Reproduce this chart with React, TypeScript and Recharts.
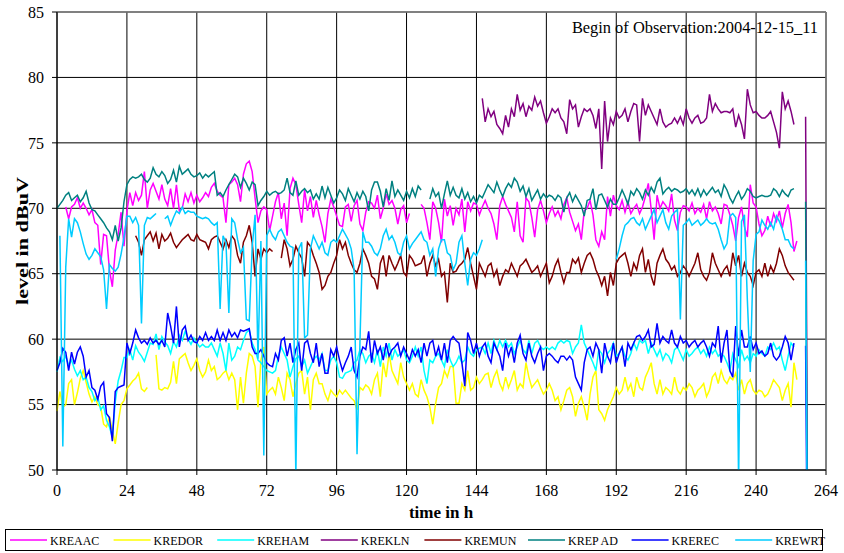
import React from "react";
import { LineChart, Line, XAxis, YAxis, CartesianGrid, ReferenceLine } from "recharts";

const _ = null;
const gap = (n: number) => new Array(n).fill(null);

// hourly levels in dBuV, index = hour since begin of observation
const kreaac = [
  _, _, _, 70.1, 69.2, 70.1, 70.3, 70.8, 70.0, 70.4, 70.0, 69.5, 69.9, 68.9, 68.7, 65.7, 68.0, 67.9, 65.3, 64.0, 66.8, 68.0, 69.7, 67.1,
  69.8, 71.2, 70.2, 71.2, 70.6, 71.0, 72.8, 70.0, 71.4, 71.9, 71.3, 70.7, 71.8, 70.7, 70.2, 71.5, 70.0, 71.8, 69.8, 70.0, 71.1, 70.5, 71.2, 70.4,
  71.0, 70.5, 70.8, 71.2, 70.9, 71.6, 71.9, 71.3, 71.0, 70.8, 68.9, 71.8, 72.0, 72.3, 71.8, 70.5, 72.6, 73.4, 73.6, 72.8, 70.8, 68.9, 69.8, 70.1,
  69.9, 68.3, 69.4, 70.5, 71.2, 69.2, 70.4, 67.9, 71.5, 72.3, 71.8, 70.3, 68.9, 71.4, 69.8, 70.9, 69.3, 70.6, 69.5, 68.6, 67.4, 69.6, 70.7, 70.1,
  69.4, 68.7, 68.6, 70.1, 70.3, 69.0, 70.2, 70.6, 68.8, 68.3, 69.7, 70.5, 70.4, 70.0, 71.0, 69.2, 70.0, 71.1, 70.3, 70.6, 70.0, 68.8, 69.9, 70.2,
  68.9, 69.6, _, _, _, 70.3, 70.0, 68.9, 67.6, 70.5, 70.0, 68.9, 67.4, 70.7, 69.4, 70.2, 68.7, 70.0, 69.5, 70.7, 68.2, 70.5, 69.8, 70.4,
  70.3, 69.5, 70.1, 70.6, 70.0, 69.6, 68.8, 67.6, 70.2, 70.9, 70.3, 69.8, 69.3, 68.2, 70.5, 67.9, 67.4, 70.8, 70.5, 69.3, 67.8, 69.9, 70.6, 69.8,
  68.9, 69.6, 70.1, 69.4, 69.8, 69.2, 70.3, 70.8, 69.7, 69.0, 68.3, 68.8, 67.6, 69.8, 70.0, 70.6, 69.5, 67.6, 67.1, 68.2, 67.6, 70.9, 69.4, 71.0,
  70.2, 69.9, 70.6, 69.7, 70.5, 69.6, 70.0, 70.3, 69.6, 70.1, 70.9, 71.9, 69.9, 67.6, 71.0, 70.0, 70.5, 70.2, 69.8, 71.1, 69.1, 68.3, 69.7, 70.2,
  70.1, 69.8, 70.4, 69.6, 70.0, 69.7, 70.3, 69.2, 70.5, 69.8, 70.1, 69.6, 68.8, 70.3, 70.2, 69.5, 68.7, 67.5, 69.3, 70.1, 68.6, 67.8, 71.8, 70.4,
  70.1, 68.8, 67.9, 68.3, 69.4, 68.6, 69.6, 69.0, 69.8, 68.5, 69.6, 70.3, 68.9, 66.7, 67.5, _, _, _, _,
];

const kredor = [
  54.5, 56.0, 54.8, 55.0, 56.6, 56.9, 55.0, 55.9, 57.0, 57.6, 56.7, 55.8, 55.2, 55.6, 55.0, 54.8, 53.5, 53.3, 54.1, 53.0, 52.0, 53.6, 55.0, 55.3,
  56.2, 56.5, 56.8, 57.0, 57.4, 56.2, 56.0, 56.3, _, _, 58.8, 56.2, 56.1, 56.3, 56.2, 56.7, 58.3, 56.6, 58.5, 58.7, 58.9, 58.2, 57.6, 58.0,
  58.5, 57.6, 57.1, 57.5, 58.4, 57.6, 57.9, 56.9, 57.1, 57.4, 57.6, 56.9, 57.4, 56.9, 54.6, 57.1, 55.1, 57.4, 58.9, 58.7, 57.9, 54.8, 58.4, 59.4,
  55.8, 56.1, 56.3, 55.8, 57.1, 56.3, 55.3, 57.4, 56.9, 55.6, 56.6, 57.4, 57.6, 55.8, 57.1, 54.6, 56.9, 57.4, 56.6, 56.6, 55.8, 55.3, 56.1, 55.8,
  55.6, 56.1, 55.8, 56.1, 55.8, 55.5, 55.3, 54.6, 56.3, 56.1, 56.5, 56.3, 55.8, 56.9, 57.4, 55.6, 58.2, 57.1, 58.9, 57.6, 57.1, 56.6, 58.2, 57.1,
  56.6, 56.1, 56.6, 55.8, 55.6, 56.9, 56.1, 55.6, 54.8, 53.5, 55.1, 56.3, 56.6, 57.6, 57.1, 57.9, 57.9, 55.1, 55.1, 56.6, 56.1, 57.6, 56.1, 56.3,
  57.1, 56.6, 56.9, 57.3, 57.4, 56.3, 57.1, 57.6, 56.6, 56.1, 57.1, 56.3, 56.9, 57.6, 56.1, 56.6, 56.3, 58.2, 57.1, 56.3, 56.6, 56.9, 56.3, 55.8,
  56.1, 56.6, 56.1, 55.3, 55.6, 54.6, 55.3, 56.1, 56.3, 55.6, 54.1, 55.1, 55.6, 54.8, 53.8, 55.8, 57.1, 57.6, 54.6, 54.3, 53.8, 54.6, 55.1, 55.6,
  56.3, 55.8, 56.1, 57.1, 56.1, 56.6, 55.6, 57.1, 56.3, 56.1, 57.1, 57.6, 58.2, 56.6, 55.8, 56.9, 55.8, 56.3, 56.1, 55.8, 57.1, 56.1, 55.8, 56.3,
  56.1, 56.6, 56.3, 55.6, 56.1, 56.3, 56.6, 55.6, 56.1, 57.1, 57.4, 56.6, 57.6, 56.9, 56.6, 57.1, 56.9, 57.4, 56.1, 56.9, 55.8, 56.6, 56.9, 56.1,
  55.8, 56.1, 56.0, 55.6, 55.8, 56.3, 56.9, 56.6, 56.3, 55.3, 56.1, 56.6, 54.8, 58.2, 56.9, _, _, _, _,
];

const kreham = [
  57.5, 58.6, 58.3, 58.7, 58.0, 58.4, 57.7, 57.2, 57.6, 56.9, 57.1, 56.3, 56.0, 55.3, 55.6, 54.6, 54.9, 53.8, 53.3, 52.5, 55.2, 56.8, 57.6, 58.6,
  58.6, 59.2, 58.4, 59.5, 59.0, 58.7, 58.3, 59.0, 59.7, 59.6, 60.4, 59.2, 60.2, 59.8, 59.5, 58.9, 59.8, 59.4, 60.3, 59.9, 60.6, 60.0, 59.6, 60.1,
  59.7, 59.4, 59.6, 59.4, 59.4, 59.7, 59.2, 58.7, 59.7, 58.9, 57.6, 59.7, 58.4, 58.7, 59.4, 59.2, 59.9, 60.5, 60.7, 59.7, 59.2, 58.4, 58.2, 57.9,
  57.6, 57.5, 57.4, 57.6, 58.7, 59.4, 58.9, 58.4, 57.1, 57.9, 58.5, 58.7, 57.9, 58.4, 57.4, 57.9, 58.4, 58.7, 58.4, 58.9, 57.6, 57.6, 58.4, 58.7,
  58.2, 57.1, 57.0, 57.4, 57.5, 57.6, 58.2, 58.4, 59.2, 58.9, 58.2, 58.7, 58.9, 58.2, 59.2, 57.9, 59.4, 58.7, 59.7, 58.4, 59.2, 58.7, 58.9, 59.2,
  58.4, 58.2, 58.7, 59.4, 58.7, 59.4, 57.6, 56.6, 58.4, 58.2, 58.7, 58.9, 58.4, 57.9, 59.2, 58.4, 57.9, 58.2, 58.7, 58.2, 58.4, 59.4, 58.9, 58.7,
  59.2, 59.3, 59.4, 58.9, 59.7, 58.9, 59.9, 59.2, 59.9, 59.4, 59.9, 59.4, 59.7, 58.9, 59.4, 59.9, 59.2, 58.9, 59.9, 58.9, 59.7, 59.9, 59.4, 59.2,
  59.4, 59.2, 59.4, 59.2, 59.7, 59.9, 59.7, 59.9, 59.8, 58.9, 59.4, 59.7, 61.1, 59.7, 59.2, 58.7, 58.2, 57.6, 59.2, 58.9, 58.2, 58.9, 59.2, 59.7,
  58.7, 58.9, 59.4, 58.7, 58.4, 58.9, 59.7, 59.2, 59.9, 59.7, 59.9, 58.9, 59.7, 59.2, 58.7, 59.2, 58.4, 58.9, 58.7, 58.2, 59.2, 59.4, 58.9, 58.4,
  59.2, 58.7, 58.9, 59.2, 59.4, 58.9, 59.2, 58.7, 59.4, 58.9, 59.2, 58.7, 58.9, 58.7, 58.2, 57.6, 58.9, 58.4, 57.9, 59.2, 58.4, 58.7, 58.2, 58.9,
  58.7, 59.2, 58.9, 58.7, 59.4, 59.2, 59.7, 59.2, 59.4, 58.4, 57.6, 58.7, 59.7, 59.4, _, _, _, _, _,
];

const krekln = [
  ...gap(144),
  _, _, 78.4, 76.6, 77.6, 77.0, 77.4, 76.4, 76.1, 75.7, 77.1, 76.2, 77.6, 77.0, 78.7, 77.5, 78.0, 77.0, 77.8, 77.5, 78.5, 77.8, 78.2, 77.3,
  76.5, 77.0, 77.6, 77.3, 77.6, 76.9, 76.6, 75.7, 78.3, 77.6, 77.9, 76.2, 77.0, 77.6, 77.4, 77.6, 77.1, 76.1, 77.6, 73.0, 78.2, 75.1, 76.9, 76.4,
  77.4, 76.9, 77.1, 77.6, 76.6, 77.4, 78.0, 77.9, 75.1, 78.4, 77.1, 77.9, 77.4, 76.9, 76.4, 77.6, 76.6, 76.2, 76.4, 76.5, 76.9, 76.5, 77.0, 76.4,
  77.6, 76.9, 76.5, 76.9, 77.1, 76.5, 76.6, 76.9, 78.7, 77.4, 78.0, 77.6, 77.3, 77.4, 77.4, 77.3, 77.6, 76.2, 77.1, 76.4, 75.3, 79.1, 77.9, 77.3,
  77.4, 77.1, 76.9, 76.9, 77.1, 77.4, 76.6, 75.8, 74.6, 78.9, 77.6, 78.2, 77.4, 76.4, _, _, _, 77.0, 30,
];

const kremun = [
  ...gap(24),
  _, _, _, 67.9, 67.4, 66.4, 67.6, 67.9, 68.2, 67.5, 68.1, 66.9, 68.0, 67.5, 67.7, 68.1, 67.4, 67.0, 67.3, 67.6, 67.8, 68.0, 67.6, 67.5,
  68.0, 67.6, 67.5, 67.4, 66.9, 67.6, 67.8, 67.9, 67.4, 66.9, 67.6, 67.0, 67.9, 67.6, 66.4, 65.8, 67.4, 67.9, 68.7, 67.4, 64.8, 66.9, 66.1, 66.9,
  66.6, 66.9, 66.7, _, _, 66.2, 67.6, 66.9, 65.6, 66.1, 67.1, 66.6, 66.2, 64.8, 67.4, 67.1, 66.4, 65.8, 65.1, 63.8, 64.1, 64.8, 65.1, 65.8,
  66.4, 67.6, 66.9, 67.4, 66.4, 65.8, 65.3, 65.1, 65.8, 66.9, 66.4, 65.8, 64.8, 64.6, 63.8, 65.8, 66.4, 64.8, 66.4, 65.8, 65.3, 65.8, 66.4, 65.1,
  64.8, 66.4, 66.1, 65.6, 65.7, 65.8, 66.4, 64.8, 65.8, 66.4, 65.6, 66.1, 64.8, 65.1, 62.8, 65.8, 65.1, 65.2, 65.6, 65.8, 66.1, 67.0, 65.8, 64.8,
  63.8, 65.8, 65.3, 64.8, 65.6, 65.8, 64.8, 65.3, 64.1, 64.8, 65.3, 65.1, 65.8, 65.3, 64.8, 65.6, 65.8, 66.1, 65.6, 65.1, 65.3, 65.6, 64.8, 65.3,
  65.8, 64.3, 64.8, 65.6, 66.1, 65.1, 64.3, 65.1, 65.1, 66.1, 65.8, 66.2, 65.1, 65.8, 66.4, 66.6, 66.1, 65.3, 64.8, 64.1, 64.8, 63.3, 65.1, 64.1,
  65.8, 66.2, 66.4, 66.6, 65.8, 64.8, 65.8, 65.3, 66.4, 66.9, 65.1, 66.1, 64.8, 64.1, 65.8, 66.4, 66.9, 66.1, 65.8, 65.3, 65.6, 64.8, 65.1, 65.6,
  65.3, 64.8, 65.3, 65.8, 66.6, 65.3, 64.8, 64.5, 65.1, 66.6, 65.8, 65.3, 64.8, 65.3, 65.6, 64.8, 66.6, 65.6, 66.4, 64.8, 65.8, 65.1, 64.8, 64.1,
  65.1, 65.3, 64.8, 65.8, 64.8, 65.6, 65.1, 65.8, 66.9, 66.4, 65.6, 65.1, 64.8, 64.5, _, _, _, _, _,
];

const krepad = [
  70.0, 70.3, 70.6, 71.0, 71.2, 70.6, 70.8, 71.0, 70.5, 70.8, 71.3, 70.4, 69.9, 69.8, 69.5, 69.2, 68.9, 68.5, 68.2, 67.6, 68.7, 67.5, 68.5, 70.5,
  71.8, 72.2, 72.4, 72.3, 72.4, 72.6, 72.2, 72.0, 72.3, 73.1, 72.6, 72.4, 72.8, 72.5, 71.9, 72.2, 72.9, 72.0, 73.2, 72.6, 72.8, 73.0, 72.6, 72.4,
  72.5, 72.7, 72.3, 72.6, 72.4, 72.6, 72.8, 71.0, 71.2, 70.9, 71.4, 71.8, 72.2, 72.6, 72.4, 71.6, 72.3, 71.9, 71.4, 72.0, 71.8, 70.2, 70.6, 70.9,
  71.3, 71.0, 71.2, 71.3, 71.1, 71.2, 71.4, 72.3, 71.2, 71.0, 72.1, 71.0, 71.3, 71.5, 71.2, 71.4, 70.7, 71.1, 70.7, 71.7, 70.8, 71.6, 71.0, 70.4,
  70.8, 71.4, 71.1, 70.6, 71.5, 71.0, 70.5, 71.2, 70.7, 71.3, 70.9, 69.8, 71.4, 72.0, 72.0, 71.3, 70.1, 71.5, 70.6, 72.1, 70.9, 71.4, 71.0, 70.6,
  71.3, 70.8, 71.5, 70.9, 71.7, 71.4, _, _, 70.7, 71.5, 70.9, 71.2, 70.0, 71.1, 72.1, 71.0, 71.6, 71.0, 70.8, 71.5, 70.7, 71.2, 70.5, 70.9,
  70.4, 71.0, 70.8, 71.3, 71.8, 71.5, 71.2, 72.0, 71.4, 70.9, 71.5, 71.9, 71.6, 72.3, 72.0, 71.3, 71.7, 70.9, 71.5, 70.6, 71.0, 71.4, 70.7, 71.1,
  70.8, 71.0, 70.9, 70.6, 71.0, 70.8, 69.7, 70.8, 71.2, 70.5, 71.0, 70.6, 70.2, 69.4, 70.6, 70.7, 71.5, 69.9, 71.0, 71.1, 70.6, 70.1, 70.7, 70.3,
  70.3, 70.8, 71.4, 70.9, 70.3, 71.3, 71.0, 71.5, 71.2, 70.7, 71.4, 71.0, 71.6, 71.2, 72.0, 72.3, 71.1, 71.4, 71.6, 71.3, 71.5, 71.4, 71.2, 71.3,
  71.5, 71.1, 71.4, 71.0, 71.5, 70.9, 71.4, 71.0, 71.3, 71.6, 71.2, 71.4, 70.9, 71.8, 71.4, 70.8, 70.4, 70.9, 71.3, 70.7, 71.0, 71.5, 71.3, 70.9,
  70.8, 70.9, 71.0, 70.9, 70.9, 71.0, 71.5, 71.3, 70.9, 71.4, 71.1, 70.9, 71.4, 71.5, _, _, _, 70.5, 30,
];

const krerec = [
  57.6, 58.2, 59.3, 59.0, 57.6, 59.0, 58.1, 59.0, 59.4, 58.7, 57.1, 57.6, 56.3, 56.1, 55.4, 56.4, 56.7, 54.3, 54.0, 52.2, 56.0, 56.3, 56.4, 56.5,
  59.7, 58.9, 59.7, 60.7, 60.1, 59.7, 59.9, 59.6, 60.1, 59.7, 59.9, 59.6, 59.9, 59.4, 62.0, 61.0, 59.7, 62.5, 59.4, 60.7, 61.0, 59.9, 60.3, 59.8,
  59.7, 60.2, 59.9, 60.5, 59.9, 60.2, 59.9, 60.7, 59.9, 60.5, 59.9, 60.7, 60.2, 60.5, 60.1, 60.7, 60.6, 60.7, 60.8, 59.4, 58.9, 58.9, 59.2, 58.7,
  58.2, 58.0, 57.9, 58.9, 58.4, 59.9, 60.1, 58.7, 59.7, 58.2, 59.2, 59.7, 57.6, 59.7, 59.9, 58.9, 58.2, 59.7, 57.9, 58.9, 57.4, 57.4, 59.2, 58.7,
  59.4, 58.4, 57.6, 58.2, 58.7, 59.4, 57.6, 57.1, 58.7, 59.4, 59.2, 60.6, 58.2, 59.9, 58.9, 59.4, 58.4, 59.7, 58.7, 59.2, 59.4, 59.7, 58.7, 59.4,
  58.9, 58.4, 59.2, 58.7, 59.2, 58.2, 59.7, 58.7, 59.7, 59.9, 58.7, 59.4, 58.4, 59.7, 58.2, 59.9, 60.2, 59.9, 59.7, 58.2, 56.4, 60.5, 59.9, 58.9,
  59.7, 58.7, 59.4, 59.7, 58.7, 58.2, 59.7, 59.2, 58.7, 57.6, 59.7, 58.7, 59.4, 58.2, 59.7, 60.3, 58.9, 58.4, 59.7, 58.7, 58.2, 58.9, 59.4, 57.6,
  58.7, 58.9, 58.7, 58.4, 58.2, 58.7, 58.7, 58.4, 58.7, 58.4, 57.1, 56.6, 56.1, 58.2, 59.2, 59.4, 58.7, 59.7, 59.2, 57.4, 59.7, 58.7, 58.2, 59.7,
  58.2, 58.9, 59.4, 57.9, 59.7, 59.2, 59.7, 60.2, 60.3, 59.9, 60.2, 60.7, 59.4, 59.6, 61.2, 59.7, 60.2, 59.9, 59.7, 60.7, 59.7, 59.4, 60.2, 59.7,
  59.9, 59.4, 59.7, 59.9, 59.4, 59.7, 59.9, 59.4, 58.7, 59.7, 59.4, 61.0, 58.2, 59.7, 60.7, 57.6, 57.1, 61.0, 58.7, 60.7, 59.4, 59.4, 60.2, 59.2,
  59.7, 58.9, 59.1, 58.7, 58.9, 59.7, 58.7, 58.4, 58.7, 59.4, 60.2, 59.7, 58.4, 59.7, _, _, _, 59.5, 30,
];

const krewrt = [
  _, 67.9, 51.8, 65.5, 69.2, 67.8, 69.2, 68.9, 68.2, 67.3, 66.5, 66.1, 66.4, 66.9, 66.6, 66.3, 65.3, 62.3, 65.7, 65.4, 65.2, 65.5, 66.5, 67.8,
  69.4, 69.4, 68.9, 69.3, 68.7, 61.2, 68.7, 69.3, 69.2, 69.4, 69.6, _, _, 69.2, 69.4, 68.7, 69.3, 69.8, 69.6, 70.1, 69.6, 69.8, 69.7, 69.7,
  69.4, 69.3, 69.2, 69.3, 69.2, 68.9, 68.7, 68.9, 62.3, 67.9, 67.4, 62.0, 69.2, 68.9, 67.6, 66.6, 67.0, 61.5, 61.4, 67.0, 69.5, 58.5, 67.5, 51.1,
  67.9, 68.4, 67.9, 67.6, 68.2, 68.4, 67.9, 67.4, 67.1, 67.0, 49.5, 66.9, 67.4, 60.1, 60.3, 66.9, 67.9, 67.4, 66.9, 67.4, 66.6, 66.4, 67.4, 67.6,
  67.4, 67.9, 68.4, 68.0, 67.6, 66.9, 65.3, 51.2, 59.7, 68.2, 67.4, 67.4, 67.1, 66.6, 66.4, 66.9, 67.9, 68.4, 67.6, 67.9, 67.4, 66.6, 66.4, 67.4,
  67.9, 66.9, 67.3, 67.6, 67.9, 68.2, 67.6, 67.4, 66.4, 66.9, 64.8, 66.9, 67.6, 67.6, 66.6, 66.4, 65.3, 65.8, 67.4, 67.9, 65.8, 64.1, 66.1, 66.6,
  66.4, 66.9, 67.6, ...gap(21),
  ...gap(24),
  66.1, 66.9, 67.9, 68.7, 68.9, 69.2, 69.3, 68.9, 68.7, 69.2, 68.4, 68.9, 69.4, 69.9, 68.9, 69.4, 69.9, 68.9, 68.4, 69.4, 69.7, 69.9, 61.5, 68.7,
  68.9, 69.2, 68.7, 68.9, 69.1, 68.7, 68.9, 69.2, 68.9, 68.8, 68.9, 68.4, 67.6, 66.9, 67.3, 69.4, 69.6, 69.3, 49.0, 69.0, 69.5, 63.0, 57.5, 66.0,
  68.0, 68.2, 69.1, 68.7, 68.4, 68.9, 68.4, 69.4, 69.0, 68.4, 67.6, 67.6, 67.1, 66.9, _, _, _, 66.0, 30,
];

const xTicks = [0, 24, 48, 72, 96, 120, 144, 168, 192, 216, 240, 264];
const yTicks = [50, 55, 60, 65, 70, 75, 80, 85];

const series = [
  { key: "KREAAC", name: "KREAAC", color: "#FF00FF", values: kreaac },
  { key: "KREDOR", name: "KREDOR", color: "#FFFF00", values: kredor },
  { key: "KREHAM", name: "KREHAM", color: "#00FFFF", values: kreham },
  { key: "KREKLN", name: "KREKLN", color: "#800080", values: krekln },
  { key: "KREMUN", name: "KREMUN", color: "#800000", values: kremun },
  { key: "KREPAD", name: "KREP AD", color: "#008080", values: krepad },
  { key: "KREREC", name: "KREREC", color: "#0000FF", values: krerec },
  { key: "KREWRT", name: "KREWRT", color: "#00CCFF", values: krewrt },
];

const data = kreaac.map((_v, h) => {
  const row: Record<string, number | null> = { h };
  series.forEach((s) => {
    row[s.key] = s.values[h] ?? null;
  });
  return row;
});

const FONT = "'Liberation Serif', 'Times New Roman', serif";

export default function App() {
  return (
    <div style={{ position: "absolute", left: 0, top: 0, width: 844, height: 553, background: "#fff", fontFamily: FONT }}>
      <LineChart width={844} height={553} data={data} margin={{ top: 12, right: 18, bottom: 30, left: 0 }}>
        <CartesianGrid stroke="#000" strokeWidth={1} />
        <XAxis
          dataKey="h"
          type="number"
          domain={[0, 264]}
          ticks={xTicks}
          interval={0}
          height={53}
          stroke="#000"
          tickSize={5}
          tickMargin={10}
          tick={{ fill: "#000", fontSize: 16, fontFamily: FONT }}
        />
        <YAxis
          type="number"
          domain={[50, 85]}
          ticks={yTicks}
          interval={0}
          allowDataOverflow
          width={57}
          stroke="#000"
          tickSize={5}
          tickMargin={8}
          tick={{ fill: "#000", fontSize: 16, fontFamily: FONT }}
        />
        <ReferenceLine y={85} stroke="#808080" strokeWidth={1.5} />
        <ReferenceLine x={264} stroke="#808080" strokeWidth={1.5} />
        {series.map((s) => (
          <Line
            key={s.key}
            dataKey={s.key}
            name={s.name}
            stroke={s.color}
            strokeWidth={1.5}
            dot={false}
            type="linear"
            isAnimationActive={false}
          />
        ))}
      </LineChart>
      <svg width={844} height={553} style={{ position: "absolute", left: 0, top: 0, pointerEvents: "none" }} fontFamily={FONT}>
        <text
          x={22}
          y={241}
          transform="rotate(-90 22 241)"
          textAnchor="middle"
          dominantBaseline="central"
          fontWeight="bold"
          fontSize={16}
          textLength={128}
          lengthAdjust="spacingAndGlyphs"
        >
          level in dBuV
        </text>
        <text x={441} y={518} textAnchor="middle" fontWeight="bold" fontSize={17}>
          time in h
        </text>
        <text x={818} y={33} textAnchor="end" fontSize={16.4}>
          Begin of Observation:2004-12-15_11
        </text>
        <rect x={5.5} y={529.5} width={817} height={21} fill="#fff" stroke="#000" strokeWidth={1} />
        {series.map((s, i) => {
          const x0 = 10 + i * 103.6;
          return (
            <g key={s.key}>
              <line x1={x0} x2={x0 + 37} y1={540} y2={540} stroke={s.color} strokeWidth={1.5} />
              <text x={x0 + 40} y={544.5} fontSize={12}>
                {s.name}
              </text>
            </g>
          );
        })}
      </svg>
    </div>
  );
}
